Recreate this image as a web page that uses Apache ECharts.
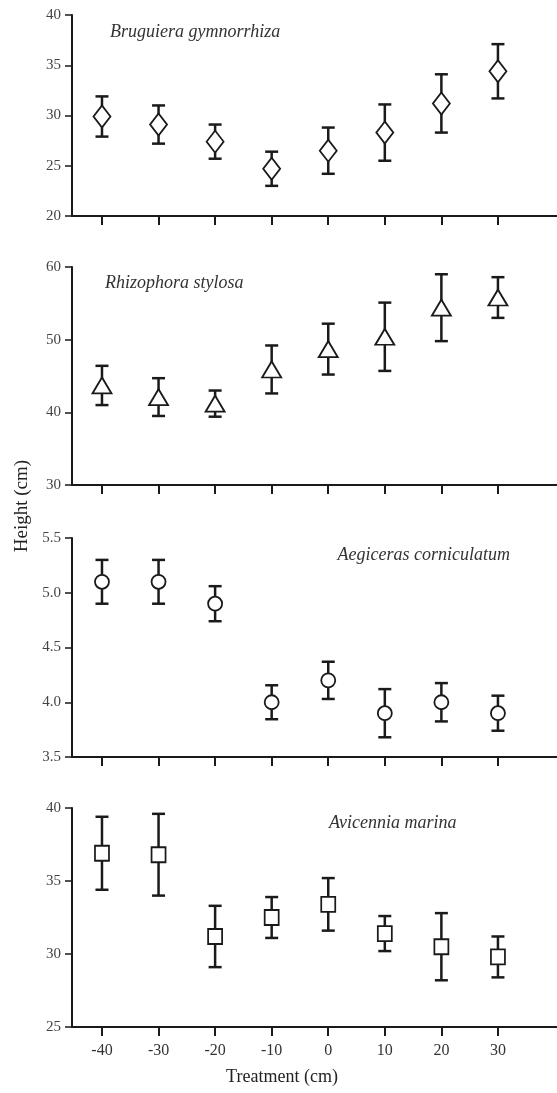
<!DOCTYPE html>
<html>
<head>
<meta charset="utf-8">
<script src="https://cdn.jsdelivr.net/npm/echarts@6/dist/echarts.min.js"></script>
<style>
  html, body { margin: 0; padding: 0; background: #fff; }
  #chart { width: 557px; height: 1093px; }
</style>
</head>
<body>
<div id="chart"></div>
<script>
// Water-level treatments (cm) shared by every panel
const treatments = [-40, -30, -20, -10, 0, 10, 20, 30];

// Mean height (cm) and error-bar half-width per species
const brugMean = [29.9, 29.1, 27.4, 24.7, 26.5, 28.3, 31.2, 34.4];
const brugErr  = [2.0, 1.9, 1.7, 1.7, 2.3, 2.8, 2.9, 2.7];

const rhizMean = [43.7, 42.1, 41.2, 45.9, 48.7, 50.4, 54.4, 55.8];
const rhizErr  = [2.7, 2.6, 1.8, 3.3, 3.5, 4.7, 4.6, 2.8];

const aegiMean = [5.1, 5.1, 4.9, 4.0, 4.2, 3.9, 4.0, 3.9];
const aegiErr  = [0.2, 0.2, 0.16, 0.155, 0.17, 0.22, 0.175, 0.16];

const aviMean  = [36.9, 36.8, 31.2, 32.5, 33.4, 31.4, 30.5, 29.8];
const aviErr   = [2.5, 2.8, 2.1, 1.4, 1.8, 1.2, 2.3, 1.4];

const speciesNames = ['Bruguiera gymnorrhiza', 'Rhizophora stylosa', 'Aegiceras corniculatum', 'Avicennia marina'];

const SERIF = '"Liberation Serif", "Times New Roman", serif';
const INK = '#1a1a1a';

const panels = [
  { mean: brugMean, err: brugErr, min: 20, max: 40, step: 5, symbol: 'diamond', size: [17, 22], top: 15, height: 201, dec: 0 },
  { mean: rhizMean, err: rhizErr, min: 30, max: 60, step: 10, symbol: 'triangle', size: [19, 16], top: 267, height: 218, dec: 0 },
  { mean: aegiMean, err: aegiErr, min: 3.5, max: 5.5, step: 0.5, symbol: 'circle', size: 14, top: 538, height: 219, dec: 1 },
  { mean: aviMean, err: aviErr, min: 25, max: 40, step: 5, symbol: 'rect', size: [14, 15], top: 808, height: 219, dec: 0 }
];

const grids = [], xAxes = [], yAxes = [], series = [];

panels.forEach((p, i) => {
  const last = i === panels.length - 1;
  grids.push({ left: 72, right: 0, top: p.top, height: p.height });

  xAxes.push({
    type: 'value', gridIndex: i, min: -45.3, max: 40.44,
    axisLine: { show: true, onZero: false, lineStyle: { color: INK, width: 2 } },
    axisTick: { show: true, inside: false, length: 9, customValues: treatments, lineStyle: { color: INK, width: 2 } },
    axisLabel: {
      show: last, customValues: treatments, margin: 16,
      fontFamily: SERIF, fontSize: 16, color: '#333'
    },
    splitLine: { show: false }
  });

  yAxes.push({
    type: 'value', gridIndex: i, min: p.min, max: p.max, interval: p.step,
    axisLine: { show: true, onZero: false, lineStyle: { color: INK, width: 2 } },
    axisTick: { show: true, inside: false, length: 7, lineStyle: { color: INK, width: 1.5 } },
    axisLabel: {
      margin: 11, fontFamily: SERIF, fontSize: 15, color: '#444',
      formatter: v => v.toFixed(p.dec)
    },
    splitLine: { show: false }
  });

  const rows = treatments.map((t, k) => [t, p.mean[k], p.err[k]]);

  // vertical error bar with caps
  series.push({
    type: 'custom', xAxisIndex: i, yAxisIndex: i, z: 2,
    data: rows,
    renderItem: (params, api) => {
      const x = api.value(0), m = api.value(1), e = api.value(2);
      const hi = api.coord([x, m + e]);
      const lo = api.coord([x, m - e]);
      const cap = 6.5;
      const style = { stroke: INK, lineWidth: 2.5 };
      return {
        type: 'group',
        children: [
          { type: 'line', shape: { x1: hi[0], y1: hi[1], x2: lo[0], y2: lo[1] }, style },
          { type: 'line', shape: { x1: hi[0] - cap, y1: hi[1], x2: hi[0] + cap, y2: hi[1] }, style },
          { type: 'line', shape: { x1: lo[0] - cap, y1: lo[1], x2: lo[0] + cap, y2: lo[1] }, style }
        ]
      };
    }
  });

  // open mean markers on top of the bars
  series.push({
    type: 'scatter', xAxisIndex: i, yAxisIndex: i, z: 3,
    symbol: p.symbol, symbolSize: p.size,
    itemStyle: { color: '#fff', borderColor: INK, borderWidth: 1.8, opacity: 1 },
    data: rows.map(r => [r[0], r[1]])
  });
});

const labelFont = 'italic 18px ' + SERIF;
const graphic = [
  { type: 'text', x: 110, y: 32, style: { text: speciesNames[0], font: labelFont, fill: '#333', textAlign: 'left', textVerticalAlign: 'middle', verticalAlign: 'middle' } },
  { type: 'text', x: 105, y: 283, style: { text: speciesNames[1], font: labelFont, fill: '#333', textAlign: 'left', textVerticalAlign: 'middle', verticalAlign: 'middle' } },
  { type: 'text', x: 510, y: 555, style: { text: speciesNames[2], font: labelFont, fill: '#333', textAlign: 'right', textVerticalAlign: 'middle', verticalAlign: 'middle' } },
  { type: 'text', x: 329, y: 823, style: { text: speciesNames[3], font: labelFont, fill: '#333', textAlign: 'left', textVerticalAlign: 'middle', verticalAlign: 'middle' } },
  { type: 'text', x: 22, y: 506, rotation: Math.PI / 2,
    style: { text: 'Height (cm)', font: '19px ' + SERIF, fill: '#222', textAlign: 'center', textVerticalAlign: 'middle', verticalAlign: 'middle' } },
  { type: 'text', x: 282, y: 1077,
    style: { text: 'Treatment (cm)', font: '18px ' + SERIF, fill: '#222', textAlign: 'center', textVerticalAlign: 'middle', verticalAlign: 'middle' } }
];

const chart = echarts.init(document.getElementById('chart'), null, { renderer: 'canvas' });
chart.setOption({
  backgroundColor: '#fff',
  animation: false,
  grid: grids,
  xAxis: xAxes,
  yAxis: yAxes,
  series: series,
  graphic: graphic
});
</script>
</body>
</html>
